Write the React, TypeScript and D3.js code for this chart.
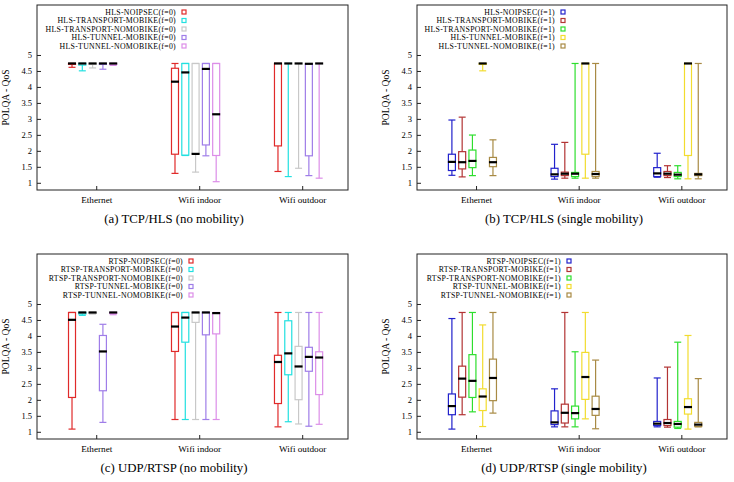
import React from "react";
import * as d3 from "d3";

const categories = ["Ethernet", "Wifi indoor", "Wifi outdoor"];
const yTicks = [1, 1.5, 2, 2.5, 3, 3.5, 4, 4.5, 5];
const yTickLabels = ["1", "1.5", "2", "2.5", "3", "3.5", "4", "4.5", "5"];

const kinds = ["NOIPSEC", "TRANSPORT-MOBIKE", "TRANSPORT-NOMOBIKE", "TUNNEL-MOBIKE", "TUNNEL-NOMOBIKE"];
const colorsNoMob = ["#e02a2a", "#22e0e0", "#c8c8c8", "#9f7de8", "#dc8ee8"];
const colorsMob = ["#2222cc", "#b23434", "#2ede2e", "#f2dc2e", "#a88a44"];

// [low, q1, median, q3, high] per category, per series
const hlsNoMobility = [
  [[4.63, 4.72, 4.75, 4.75, 4.75], [1.31, 1.91, 4.18, 4.6, 4.75], [1.37, 2.17, 4.75, 4.75, 4.75]],
  [[4.52, 4.7, 4.75, 4.75, 4.75], [1.87, 1.88, 4.47, 4.75, 4.75], [1.21, 4.75, 4.75, 4.75, 4.75]],
  [[4.61, 4.72, 4.75, 4.75, 4.75], [1.35, 1.92, 1.92, 4.75, 4.75], [1.47, 4.75, 4.75, 4.75, 4.75]],
  [[4.57, 4.72, 4.75, 4.75, 4.75], [1.86, 2.2, 4.58, 4.75, 4.75], [1.24, 1.86, 4.74, 4.74, 4.74]],
  [[4.69, 4.72, 4.75, 4.75, 4.75], [1.05, 1.87, 3.16, 4.75, 4.75], [1.16, 4.75, 4.75, 4.75, 4.75]],
];

const hlsMobility = [
  [[1.25, 1.4, 1.67, 1.91, 2.98], [1.13, 1.21, 1.28, 1.47, 2.22], [1.19, 1.21, 1.31, 1.49, 1.94]],
  [[1.2, 1.45, 1.66, 1.99, 3.07], [1.16, 1.24, 1.3, 1.35, 2.28], [1.18, 1.24, 1.3, 1.37, 1.55]],
  [[1.24, 1.49, 1.7, 2.04, 2.51], [1.16, 1.21, 1.3, 1.34, 4.75], [1.14, 1.21, 1.27, 1.34, 1.55]],
  [[4.52, 4.72, 4.75, 4.75, 4.75], [1.16, 1.91, 4.75, 4.75, 4.75], [1.14, 1.87, 4.75, 4.75, 4.75]],
  [[1.24, 1.52, 1.66, 1.81, 2.36], [1.16, 1.21, 1.29, 1.37, 4.75], [1.14, 1.24, 1.28, 1.31, 4.75]],
];

const rtspNoMobility = [
  [[1.1, 2.09, 4.52, 4.75, 4.75], [1.4, 3.53, 4.31, 4.75, 4.75], [1.17, 1.9, 3.2, 3.41, 4.75]],
  [[4.66, 4.7, 4.75, 4.75, 4.75], [1.4, 3.82, 4.59, 4.75, 4.75], [1.33, 2.8, 3.47, 4.49, 4.75]],
  [[4.7, 4.72, 4.75, 4.75, 4.75], [1.4, 4.44, 4.75, 4.75, 4.75], [1.26, 2.02, 3.06, 3.69, 4.75]],
  [[1.31, 2.3, 3.53, 4.03, 4.38], [1.4, 4.05, 4.75, 4.75, 4.75], [1.19, 2.91, 3.36, 3.66, 4.75]],
  [[4.68, 4.72, 4.75, 4.75, 4.75], [1.4, 4.08, 4.73, 4.73, 4.75], [1.25, 2.18, 3.34, 3.52, 4.75]],
];

const rtspMobility = [
  [[1.1, 1.55, 1.82, 2.2, 4.56], [1.17, 1.24, 1.31, 1.67, 2.36], [1.17, 1.21, 1.27, 1.34, 2.7]],
  [[1.55, 2.1, 2.68, 3.07, 4.75], [1.17, 1.29, 1.61, 1.88, 4.75], [1.16, 1.21, 1.29, 1.4, 3.04]],
  [[1.64, 2.09, 2.61, 3.43, 4.75], [1.17, 1.42, 1.6, 1.82, 3.52], [1.12, 1.16, 1.26, 1.34, 3.82]],
  [[1.18, 1.68, 2.12, 2.36, 4.36], [1.42, 2.03, 2.73, 3.5, 4.75], [1.1, 1.57, 1.79, 2.05, 4.03]],
  [[1.6, 1.99, 2.7, 3.29, 4.75], [1.11, 1.53, 1.73, 2.13, 3.26], [1.17, 1.18, 1.24, 1.31, 2.68]],
];

const serif = "'Liberation Serif', 'Times New Roman', serif";

interface PanelProps {
  left: number;
  right: number;
  top: number;
  bottom: number;
  prefix: string;
  suffix: string;
  colors: string[];
  stats: number[][][];
  legendX: number;
  caption: string;
  captionX: number;
}

function Panel(p: PanelProps) {
  const x = d3.scaleLinear().domain([0.42, 3.44]).range([p.left, p.right]);
  const y = d3.scaleLinear().domain([0.79, 6.58]).range([p.bottom, p.top]);
  const bw = 7;

  return (
    <g>
      <rect x={p.left} y={p.top} width={p.right - p.left} height={p.bottom - p.top}
        fill="none" stroke="#222" strokeWidth={1} />
      {yTicks.map((t, i) => (
        <g key={t}>
          <line x1={p.left} x2={p.left + 4} y1={y(t)} y2={y(t)} stroke="#222" />
          <text x={p.left - 5} y={y(t)} dy="0.33em" textAnchor="end" fontSize={8.5} fontFamily={serif}>
            {yTickLabels[i]}
          </text>
        </g>
      ))}
      {categories.map((c, i) => (
        <g key={c}>
          <line x1={x(i + 1)} x2={x(i + 1)} y1={p.bottom} y2={p.bottom - 4} stroke="#222" />
          <text x={x(i + 1)} y={p.bottom + 10} dy="0.33em" textAnchor="middle" fontSize={9.2} fontFamily={serif}>
            {c}
          </text>
        </g>
      ))}
      <text transform={`translate(${p.left - 31},${(p.top + p.bottom) / 2}) rotate(-90)`}
        textAnchor="middle" dy="0.33em" fontSize={9.5} fontFamily={serif}>
        POLQA - QoS
      </text>
      {p.stats.map((series, s) =>
        series.map((d, c) => {
          const cx = x(c + 1 + (s - 2) * 0.1 - 0.04);
          const [lo, q1, med, q3, hi] = d;
          const col = p.colors[s];
          return (
            <g key={`${s}-${c}`}>
              <line x1={cx} x2={cx} y1={y(lo)} y2={y(q1)} stroke={col} strokeWidth={1.2} />
              <line x1={cx} x2={cx} y1={y(q3)} y2={y(hi)} stroke={col} strokeWidth={1.2} />
              <line x1={cx - bw / 2} x2={cx + bw / 2} y1={y(lo)} y2={y(lo)} stroke={col} strokeWidth={1.2} />
              <line x1={cx - bw / 2} x2={cx + bw / 2} y1={y(hi)} y2={y(hi)} stroke={col} strokeWidth={1.2} />
              <rect x={cx - bw / 2} y={y(q3)} width={bw} height={Math.max(0, y(q1) - y(q3))}
                fill="none" stroke={col} strokeWidth={1.2} />
              <line x1={cx - bw / 2 - 0.5} x2={cx + bw / 2 + 0.5} y1={y(med)} y2={y(med)} stroke="#000" strokeWidth={2.2} />
            </g>
          );
        })
      )}
      {kinds.map((k, i) => {
        const ly = p.top + 7 + i * 8.5;
        return (
          <g key={k}>
            <text x={p.legendX} y={ly} dy="0.33em" textAnchor="end" fontSize={7.8} letterSpacing={0.3} fontFamily={serif}>
              {`${p.prefix}-${k}${p.suffix}`}
            </text>
            <rect x={p.legendX + 6} y={ly - 2} width={4} height={4} fill="none" stroke={p.colors[i]} strokeWidth={1.2} />
          </g>
        );
      })}
      <text x={p.captionX} y={p.bottom + 29} dy="0.33em" textAnchor="middle" fontSize={12.8} fontFamily={serif}>
        {p.caption}
      </text>
    </g>
  );
}

export default function App() {
  return (
    <svg width={734} height={482} style={{ position: "absolute", left: 0, top: 0, background: "#fff" }}>
      <rect width={734} height={482} fill="#fff" />
      <Panel left={37} right={348} top={5} bottom={190} prefix="HLS" suffix="(f=0)" colors={colorsNoMob}
        stats={hlsNoMobility} legendX={176} caption="(a) TCP/HLS (no mobility)" captionX={174} />
      <Panel left={417} right={727} top={5} bottom={190} prefix="HLS" suffix="(f=1)" colors={colorsMob}
        stats={hlsMobility} legendX={555} caption="(b) TCP/HLS (single mobility)" captionX={564} />
      <Panel left={37} right={348} top={254} bottom={439} prefix="RTSP" suffix="(f=0)" colors={colorsNoMob}
        stats={rtspNoMobility} legendX={183} caption="(c) UDP/RTSP (no mobility)" captionX={174} />
      <Panel left={417} right={727} top={254} bottom={439} prefix="RTSP" suffix="(f=1)" colors={colorsMob}
        stats={rtspMobility} legendX={561} caption="(d) UDP/RTSP (single mobility)" captionX={564} />
    </svg>
  );
}
